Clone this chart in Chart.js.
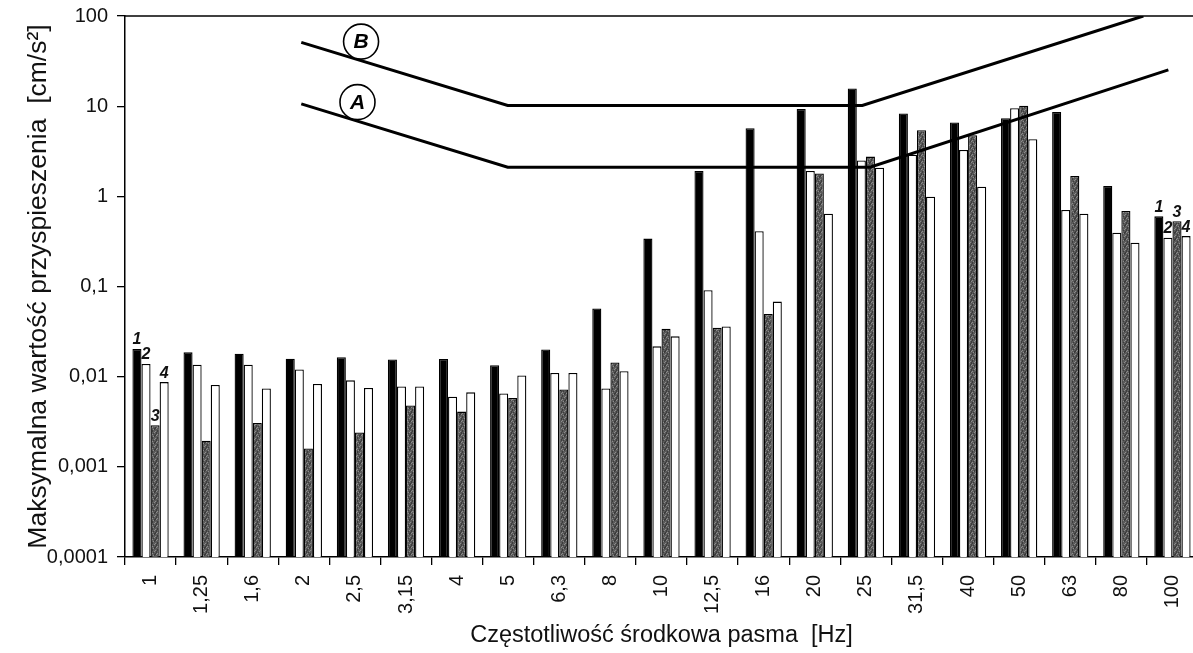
<!DOCTYPE html>
<html>
<head>
<meta charset="utf-8">
<script src="https://cdn.jsdelivr.net/npm/chart.js@4.4.1/dist/chart.umd.min.js"></script>
<style>
  html, body { margin: 0; padding: 0; background: #fff; overflow: hidden; }
  #wrap { position: absolute; left: 0; top: 0; width: 1198px; height: 653px; }
  canvas { display: block; }
</style>
</head>
<body>
<div id="wrap"><canvas id="c" width="1198" height="653"></canvas></div>
<script>
// ---- data ----
const categories = ['1','1,25','1,6','2','2,5','3,15','4','5','6,3','8','10','12,5','16','20','25','31,5','40','50','63','80','100'];
const series1 = [0.0203,0.0186,0.018,0.0158,0.0164,0.0155,0.0157,0.0134,0.020,0.057,0.34,1.91,5.7,9.3,15.7,8.3,6.6,7.35,8.6,1.3,0.60];
const series2 = [0.0138,0.0136,0.0136,0.012,0.0091,0.0078,0.0060,0.0065,0.011,0.0074,0.0217,0.091,0.41,1.91,2.5,2.9,3.27,9.5,0.705,0.395,0.347];
const series3 = [0.0029,0.00195,0.00306,0.0016,0.0024,0.0048,0.0041,0.0058,0.0072,0.0144,0.034,0.0348,0.0497,1.79,2.76,5.4,4.76,10.1,1.68,0.687,0.53];
const series4 = [0.0087,0.0081,0.0074,0.0083,0.0075,0.0078,0.0067,0.0103,0.011,0.0115,0.028,0.036,0.068,0.64,2.08,0.99,1.28,4.3,0.64,0.306,0.362];
const seriesNames = ['1','2','3','4'];
// limit curves A and B (x in category-index units)
const lineAx = [2.95, 6.99, 14.08, 19.92];
const lineAy = [10.6, 2.1, 2.1, 25.3];
const lineBx = [2.95, 6.99, 13.93, 19.43];
const lineBy = [51, 10.2, 10.2, 100];
const curveNames = ['A', 'B'];
const yTickValues = [0.0001, 0.001, 0.01, 0.1, 1, 10, 100];
const yTickLabels = ['0,0001', '0,001', '0,01', '0,1', '1', '10', '100'];
const labelledGroups = [0, 20];
const xTitle = 'Częstotliwość środkowa pasma  [Hz]';
const yTitle = 'Maksymalna wartość przyspieszenia  [cm/s²]';

// ---- gray texture for series 3 ----
function makePattern() {
  const pc = document.createElement('canvas');
  pc.width = 5; pc.height = 7;
  const g = pc.getContext('2d');
  g.fillStyle = '#5a5a5a'; g.fillRect(0, 0, 5, 7);
  g.fillStyle = '#3c3c3c';
  g.fillRect(0, 0, 1, 2); g.fillRect(2, 3, 1, 2); g.fillRect(4, 1, 1, 2); g.fillRect(1, 5, 1, 2); g.fillRect(3, 6, 1, 1);
  g.fillStyle = '#8c8c8c';
  g.fillRect(1, 1, 1, 1); g.fillRect(3, 2, 1, 1); g.fillRect(0, 4, 1, 1); g.fillRect(4, 5, 1, 1); g.fillRect(2, 0, 1, 1);
  return document.getElementById('c').getContext('2d').createPattern(pc, 'repeat');
}
const grayPattern = makePattern();

const FONT = "'Liberation Sans', Arial, sans-serif";
const toPts = (xs, ys) => xs.map((x, i) => ({ x: x, y: ys[i] }));
const toIdx = (ys) => ys.map((y, i) => ({ x: i, y: y }));

const framePlugin = {
  id: 'frame',
  beforeDatasetsDraw(chart) {
    const { ctx, chartArea } = chart;
    ctx.save();
    ctx.strokeStyle = '#000';
    ctx.lineWidth = 1.5;
    ctx.beginPath();
    ctx.moveTo(chartArea.left, chartArea.top);
    ctx.lineTo(chartArea.right, chartArea.top);
    ctx.stroke();
    ctx.restore();
  }
};

const annotPlugin = {
  id: 'annot',
  afterDatasetsDraw(chart) {
    const { ctx } = chart;
    ctx.save();
    ctx.fillStyle = '#111';
    ctx.font = 'italic bold 16px ' + FONT;
    ctx.textAlign = 'center';
    ctx.textBaseline = 'middle';
    for (let d = 0; d < 4; d++) {
      const meta = chart.getDatasetMeta(d);
      labelledGroups.forEach(gi => {
        const el = meta.data[gi];
        if (el) ctx.fillText(seriesNames[d], el.x, el.y - 9);
      });
    }
    const xs = chart.scales.x;
    [[4, 4.05], [5, 4.12]].forEach(([di, u], k) => {
      const meta = chart.getDatasetMeta(di);
      const px = xs.getPixelForValue(u);
      const pts = meta.data;
      let py = pts[0].y;
      for (let i = 0; i < pts.length - 1; i++) {
        if (px >= pts[i].x && px <= pts[i + 1].x) {
          const t = (px - pts[i].x) / (pts[i + 1].x - pts[i].x);
          py = pts[i].y + t * (pts[i + 1].y - pts[i].y);
        }
      }
      const cy = py - 19;
      ctx.beginPath();
      ctx.fillStyle = '#fff';
      ctx.arc(px, cy, 17.5, 0, Math.PI * 2);
      ctx.fill();
      ctx.lineWidth = 1.6;
      ctx.strokeStyle = '#000';
      ctx.stroke();
      ctx.fillStyle = '#000';
      ctx.font = 'italic bold 21px ' + FONT;
      ctx.fillText(curveNames[k], px, cy + 1);
    });
    ctx.restore();
  }
};

const barCommon = {
  borderColor: '#000',
  borderWidth: 1.3,
  categoryPercentage: 0.71,
  barPercentage: 1.0,
  order: 2,
  xAxisID: 'x',
  yAxisID: 'y'
};

new Chart(document.getElementById('c'), {
  type: 'bar',
  data: {
    datasets: [
      Object.assign({ label: seriesNames[0], data: toIdx(series1), backgroundColor: '#000' }, barCommon),
      Object.assign({ label: seriesNames[1], data: toIdx(series2), backgroundColor: '#fff' }, barCommon),
      Object.assign({ label: seriesNames[2], data: toIdx(series3), backgroundColor: grayPattern }, barCommon),
      Object.assign({ label: seriesNames[3], data: toIdx(series4), backgroundColor: '#fff' }, barCommon),
      { type: 'line', label: curveNames[0], data: toPts(lineAx, lineAy), xAxisID: 'x', yAxisID: 'y',
        borderColor: '#000', borderWidth: 3, pointRadius: 0, tension: 0, fill: false, order: 0 },
      { type: 'line', label: curveNames[1], data: toPts(lineBx, lineBy), xAxisID: 'x', yAxisID: 'y',
        borderColor: '#000', borderWidth: 3, pointRadius: 0, tension: 0, fill: false, order: 0 }
    ]
  },
  options: {
    responsive: false,
    animation: false,
    devicePixelRatio: 1,
    layout: { padding: { top: 16, right: 0, left: 0, bottom: 0 } },
    plugins: { legend: { display: false }, tooltip: { enabled: false } },
    scales: {
      x: {
        type: 'linear',
        position: 'bottom',
        offset: false,
        min: -0.5,
        max: categories.length - 0.5,
        afterBuildTicks(s) { s.ticks = categories.map((c, i) => ({ value: i })); },
        afterFit(s) { s.height = 96; s.paddingLeft = 0; s.paddingRight = 0; },
        border: { display: true, color: '#000', width: 1.5 },
        grid: { display: true, offset: true, drawOnChartArea: false, drawTicks: true, tickLength: 8, color: '#000', lineWidth: 1.3 },
        ticks: {
          autoSkip: false, minRotation: 90, maxRotation: 90, padding: 10, color: '#111',
          font: { family: FONT, size: 20 },
          callback: (v) => categories[Math.round(v)]
        },
        title: { display: true, text: xTitle, color: '#111', font: { family: FONT, size: 23.5 }, padding: { top: 0, bottom: 3 } }
      },
      y: {
        type: 'logarithmic',
        position: 'left',
        min: yTickValues[0],
        max: yTickValues[yTickValues.length - 1],
        afterBuildTicks(s) { s.ticks = yTickValues.map(v => ({ value: v })); },
        afterFit(s) { s.width = 125; s.paddingTop = 0; s.paddingBottom = 0; },
        border: { display: true, color: '#000', width: 1.5 },
        grid: { display: true, drawOnChartArea: false, drawTicks: true, tickLength: 8, color: '#000', lineWidth: 1.3 },
        ticks: {
          padding: 9, color: '#111', font: { family: FONT, size: 20 },
          callback: (v, i) => yTickLabels[i]
        },
        title: { display: true, text: yTitle, color: '#111', font: { family: FONT, size: 26.5 }, padding: { top: 23, bottom: 0 } }
      }
    }
  },
  plugins: [framePlugin, annotPlugin]
});
</script>
</body>
</html>
